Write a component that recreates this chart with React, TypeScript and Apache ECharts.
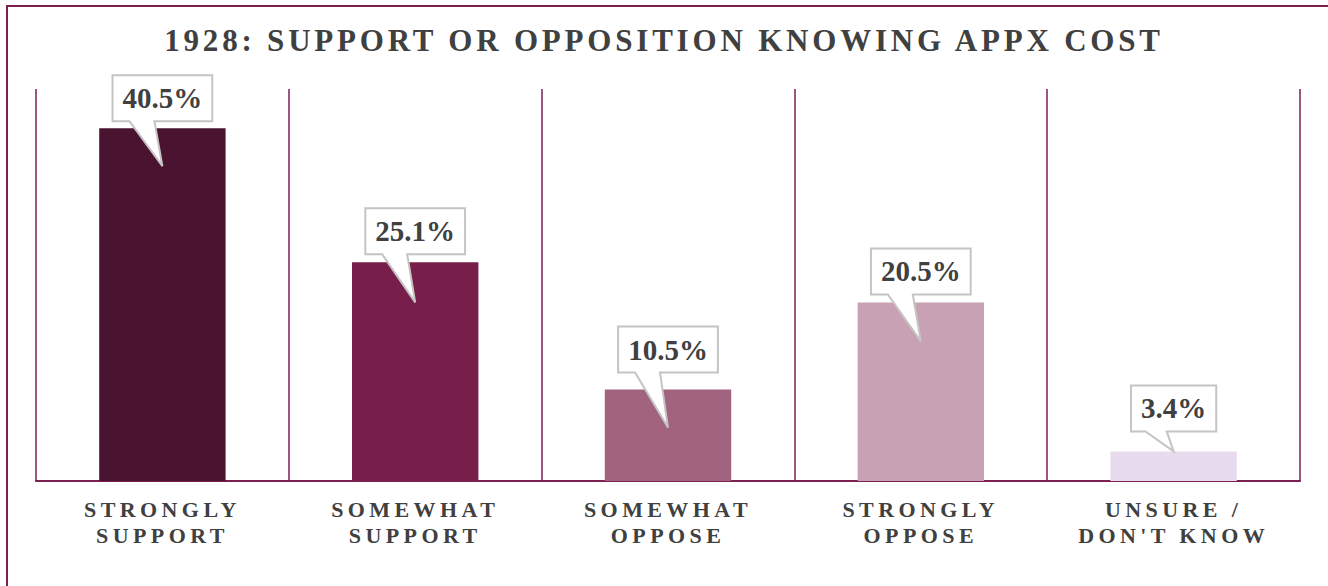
import React, { useEffect, useRef } from "react";
import * as echarts from "echarts";

const categories = [
  "STRONGLY\nSUPPORT",
  "SOMEWHAT\nSUPPORT",
  "SOMEWHAT\nOPPOSE",
  "STRONGLY\nOPPOSE",
  "UNSURE /\nDON'T KNOW",
];
const values = [40.5, 25.1, 10.5, 20.5, 3.4];
const valueLabels = ["40.5%", "25.1%", "10.5%", "20.5%", "3.4%"];
const barColors = ["#4a1430", "#771f4a", "#a2637f", "#c9a1b5", "#e7dbed"];
const titleText = "1928: SUPPORT OR OPPOSITION KNOWING APPX COST";

// callout styling (gap above bar top, tail depth into bar)
const calloutGap = [7, 8, 17, 8, 20];
const calloutTip = [38, 40, 38, 39, 0];

const MAROON = "#7b2051";
const TEXT = "#404040";
const FONT = "Liberation Serif";

function measure(text: string, size: number): number {
  const c = document.createElement("canvas").getContext("2d");
  if (!c) return text.length * size * 0.55;
  c.font = `bold ${size}px "${FONT}"`;
  return c.measureText(text).width;
}

export default function App() {
  const ref = useRef<HTMLDivElement>(null);
  useEffect(() => {
    if (!ref.current) return;
    const chart = echarts.init(ref.current, undefined, { renderer: "svg" });
    const widths = valueLabels.map((t) => measure(t, 29) + 20);
    chart.setOption({
      animation: false,
      backgroundColor: "#ffffff",
      title: {
        text: titleText,
        left: "center",
        top: 25,
        padding: 0,
        textStyle: { fontFamily: FONT, fontSize: 31, fontWeight: "bold", color: TEXT },
      },
      graphic: [
        {
          type: "rect",
          shape: { x: 7, y: 6, width: 1400, height: 700 },
          style: { fill: "none", stroke: MAROON, lineWidth: 2 },
          silent: true,
        },
      ],
      grid: { left: 36, right: 28, top: 89, bottom: 105 },
      xAxis: {
        type: "category",
        data: categories,
        axisLine: { show: true, lineStyle: { color: MAROON, width: 2 } },
        axisTick: { show: false },
        splitLine: { show: true, interval: 0, lineStyle: { color: MAROON, width: 1.5 } },
        axisLabel: {
          interval: 0,
          margin: 15,
          color: TEXT,
          fontFamily: FONT,
          fontWeight: "bold",
          fontSize: 22,
          lineHeight: 26,
        },
      },
      yAxis: { type: "value", min: 0, max: 45, show: false },
      series: [
        {
          type: "bar",
          barWidth: "50%",
          data: values.map((v, i) => ({ value: v, itemStyle: { color: barColors[i] } })),
          z: 2,
        },
        {
          type: "custom",
          z: 5,
          data: values.map((v, i) => [i, v]),
          renderItem: (params: any, api: any) => {
            const i = params.dataIndex;
            const p = api.coord([api.value(0), api.value(1)]);
            const cx = p[0];
            const top = p[1];
            const w = widths[i];
            const h = 46;
            const B = top - calloutGap[i];
            const T = B - h;
            const L = cx - w / 2;
            const R = cx + w / 2;
            const tipY = top + calloutTip[i];
            return {
              type: "group",
              children: [
                {
                  type: "polygon",
                  shape: {
                    points: [
                      [L, T],
                      [R, T],
                      [R, B],
                      [L + 0.42 * w, B],
                      [cx, tipY],
                      [L + 0.17 * w, B],
                      [L, B],
                    ],
                  },
                  style: { fill: "#ffffff", stroke: "#c4c4c4", lineWidth: 2 },
                },
                {
                  type: "text",
                  x: cx,
                  y: (T + B) / 2,
                  style: {
                    text: valueLabels[i],
                    fill: TEXT,
                    font: `bold 29px "${FONT}"`,
                    textAlign: "center",
                    textVerticalAlign: "middle",
                  },
                },
              ],
            };
          },
        },
      ],
    });
    return () => chart.dispose();
  }, []);
  return (
    <>
      <style>{`
        #chartbox svg text[style*="31px"] { letter-spacing: 3.8px; }
        #chartbox svg text[style*="22px"] { letter-spacing: 4.4px; }
      `}</style>
      <div
        id="chartbox"
        ref={ref}
        style={{ position: "absolute", left: 0, top: 0, width: 1328, height: 586 }}
      />
    </>
  );
}
